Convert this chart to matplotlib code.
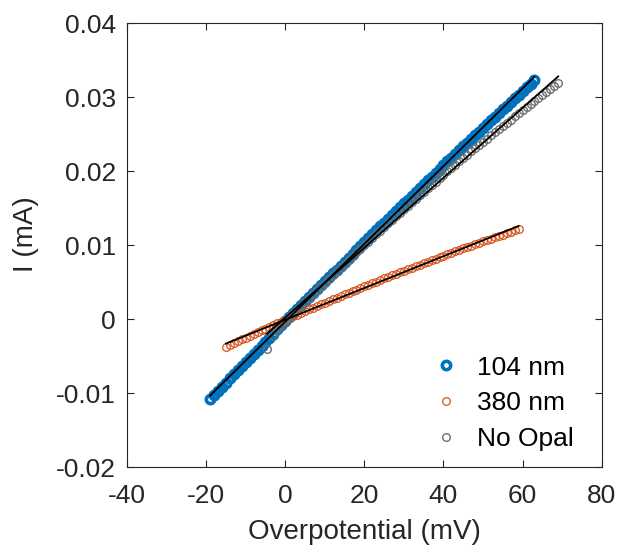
import numpy as np
import matplotlib
matplotlib.use('Agg')
import matplotlib.pyplot as plt

plt.rcParams['font.family'] = ['Liberation Sans', 'DejaVu Sans']

# overpotential (mV) and current (1e-3 mA) for each sample
v_104 = list(range(-19, 64))
i_104 = [-10.80, -10.24, -9.68, -9.12, -8.56, -8.01, -7.45, -6.90, -6.34, -5.79,
         -5.23, -4.68, -4.13, -3.58, -3.03, -2.49, -1.94, -1.39, -0.84, -0.30,
         0.24, 0.79, 1.33, 1.87, 2.41, 2.95, 3.49, 4.03, 4.57, 5.10,
         5.64, 6.17, 6.70, 7.24, 7.77, 8.30, 8.83, 9.36, 9.89, 10.42,
         10.94, 11.47, 11.99, 12.52, 13.04, 13.56, 14.09, 14.61, 15.13, 15.65,
         16.16, 16.68, 17.20, 17.71, 18.23, 18.74, 19.25, 19.77, 20.28, 20.79,
         21.30, 21.81, 22.31, 22.82, 23.33, 23.83, 24.34, 24.84, 25.34, 25.85,
         26.35, 26.85, 27.35, 27.84, 28.34, 28.84, 29.33, 29.83, 30.32, 30.82,
         31.31, 31.80, 32.29]

v_380 = list(range(-15, 60))
i_380 = [-3.73, -3.48, -3.23, -2.98, -2.73, -2.49, -2.25, -2.00, -1.76, -1.52,
         -1.28, -1.04, -0.80, -0.56, -0.32, -0.09, 0.15, 0.38, 0.61, 0.85,
         1.08, 1.31, 1.54, 1.77, 1.99, 2.22, 2.44, 2.67, 2.89, 3.12,
         3.34, 3.56, 3.78, 4.00, 4.22, 4.43, 4.65, 4.86, 5.08, 5.29,
         5.50, 5.71, 5.92, 6.13, 6.34, 6.55, 6.76, 6.96, 7.17, 7.37,
         7.57, 7.78, 7.98, 8.18, 8.38, 8.57, 8.77, 8.97, 9.16, 9.36,
         9.55, 9.74, 9.94, 10.13, 10.32, 10.50, 10.69, 10.88, 11.07, 11.25,
         11.43, 11.62, 11.80, 11.98, 12.16]

v_noopal = [-4.6] + list(range(-3, 70))
i_noopal = [-4.05, -2.30, -1.37, -0.84, -0.30,
            0.23, 0.77, 1.30, 1.82, 2.35, 2.87, 3.40, 3.92, 4.43, 4.95,
            5.46, 5.98, 6.48, 6.99, 7.50, 8.00, 8.51, 9.01, 9.50, 10.00,
            10.49, 10.99, 11.48, 11.96, 12.45, 12.93, 13.42, 13.90, 14.38, 14.85,
            15.33, 15.80, 16.27, 16.74, 17.20, 17.67, 18.13, 18.59, 19.05, 19.51,
            19.96, 20.41, 20.86, 21.31, 21.76, 22.20, 22.65, 23.08, 23.52, 23.96,
            24.40, 24.83, 25.26, 25.69, 26.11, 26.54, 26.96, 27.38, 27.80, 28.22,
            28.63, 29.04, 29.46, 29.86, 30.27, 30.68, 31.08, 31.48, 31.88]

labels = ['104 nm', '380 nm', 'No Opal']
colors = ['#0072BD', '#D95319', '#6e6e6e']

fig = plt.figure(figsize=(6.21, 5.49), dpi=100)
ax = fig.add_axes([0.2045, 0.149, 0.7645, 0.809])

series = [(v_104, i_104), (v_380, i_380), (v_noopal, i_noopal)]
styles = [dict(ms=6, mew=2.6), dict(ms=5.5, mew=0.9), dict(ms=5.5, mew=1.0)]

for (v, i), lab, col, st in zip(series, labels, colors, styles):
    v = np.array(v, dtype=float)
    i = np.array(i) / 1000.0
    ax.plot(v, i, 'o', mfc='none', mec=col, label=lab, zorder=2, **st)

# linear fits
for v, i in series:
    v = np.array(v, dtype=float)
    i = np.array(i) / 1000.0
    p = np.polyfit(v, i, 1)
    ax.plot([v.min(), v.max()], np.polyval(p, [v.min(), v.max()]), '-', color='black', lw=1.3, zorder=3)

ax.set_xlim(-40, 80)
ax.set_ylim(-0.02, 0.04)
ax.set_xticks(range(-40, 81, 20))
ax.set_yticks([-0.02, -0.01, 0, 0.01, 0.02, 0.03, 0.04])
ax.set_yticklabels(['-0.02', '-0.01', '0', '0.01', '0.02', '0.03', '0.04'])
ax.set_xticklabels([str(t) for t in range(-40, 81, 20)])

ax.tick_params(direction='in', top=True, right=True, length=5, width=0.8,
               labelsize=19, colors='#262626', pad=8)
ax.tick_params(axis='x', pad=12)
for s in ax.spines.values():
    s.set_color('#262626')
    s.set_linewidth(0.8)

ax.set_xlabel('Overpotential (mV)', fontsize=20, color='#262626', labelpad=8)
ax.set_ylabel('I (mA)', fontsize=20, color='#262626')
ax.yaxis.set_label_coords(-0.185, 0.525)

ax.legend(loc='lower right', bbox_to_anchor=(0.975, 0.0), frameon=False, fontsize=19,
          handlelength=1.0, handletextpad=0.7, labelspacing=0.45, borderaxespad=0.2)

fig.savefig('out.png', dpi=100)
